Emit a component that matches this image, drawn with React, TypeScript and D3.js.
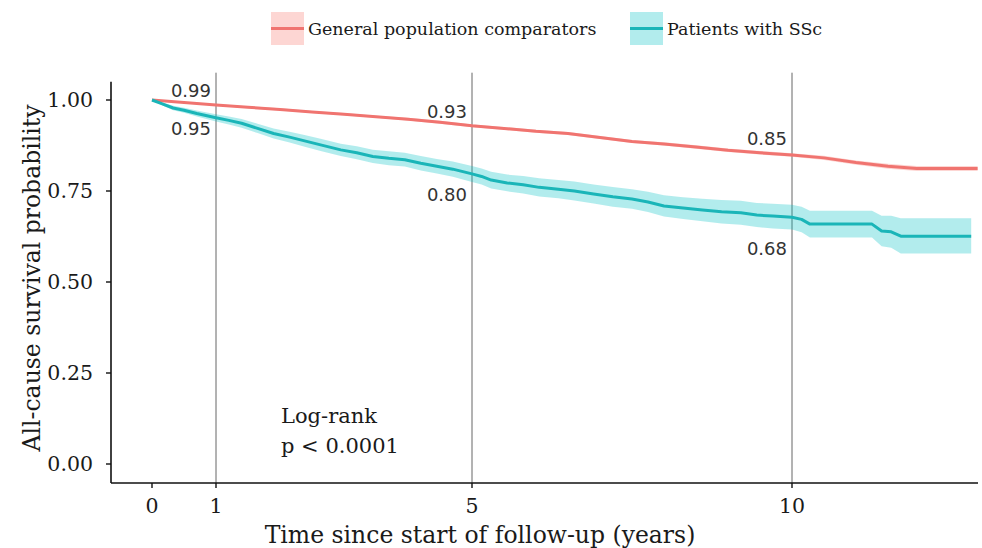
import React from 'react';
import * as d3 from 'd3';

// Kaplan-Meier readings: [time (years), survival, lower CI, upper CI]
const generalCurve: number[][] = [
  [0, 1.0, 1.0, 1.0],
  [0.5, 0.993, 0.991, 0.995],
  [1.0, 0.986, 0.984, 0.988],
  [1.5, 0.98, 0.977, 0.983],
  [2.0, 0.974, 0.971, 0.977],
  [2.5, 0.967, 0.964, 0.97],
  [3.0, 0.961, 0.958, 0.964],
  [3.5, 0.954, 0.951, 0.957],
  [4.0, 0.947, 0.944, 0.951],
  [4.5, 0.939, 0.935, 0.943],
  [5.0, 0.929, 0.925, 0.933],
  [5.5, 0.922, 0.918, 0.926],
  [6.0, 0.914, 0.91, 0.918],
  [6.5, 0.908, 0.904, 0.912],
  [7.0, 0.897, 0.893, 0.901],
  [7.5, 0.886, 0.882, 0.89],
  [8.0, 0.879, 0.875, 0.884],
  [8.5, 0.871, 0.866, 0.876],
  [9.0, 0.862, 0.857, 0.867],
  [9.5, 0.855, 0.85, 0.86],
  [10.0, 0.849, 0.844, 0.854],
  [10.5, 0.841, 0.835, 0.847],
  [11.0, 0.828, 0.822, 0.834],
  [11.5, 0.818, 0.811, 0.825],
  [11.95, 0.812, 0.805, 0.819],
  [12.9, 0.812, 0.805, 0.819],
];

const sscCurve: number[][] = [
  [0, 1.0, 1.0, 1.0],
  [0.15, 0.99, 0.986, 0.994],
  [0.33, 0.978, 0.972, 0.984],
  [0.5, 0.972, 0.965, 0.979],
  [0.7, 0.963, 0.955, 0.971],
  [1.0, 0.951, 0.941, 0.961],
  [1.2, 0.944, 0.933, 0.955],
  [1.4, 0.936, 0.924, 0.948],
  [1.65, 0.922, 0.909, 0.935],
  [1.9, 0.908, 0.894, 0.922],
  [2.15, 0.898, 0.883, 0.913],
  [2.4, 0.887, 0.871, 0.903],
  [2.65, 0.876, 0.859, 0.893],
  [2.95, 0.863, 0.846, 0.88],
  [3.2, 0.855, 0.837, 0.873],
  [3.45, 0.845, 0.827, 0.863],
  [3.7, 0.84, 0.821, 0.859],
  [3.95, 0.836, 0.817, 0.855],
  [4.2, 0.826, 0.806, 0.846],
  [4.45, 0.818, 0.798, 0.838],
  [4.7, 0.81, 0.789, 0.831],
  [5.0, 0.797, 0.775, 0.819],
  [5.15, 0.79, 0.768, 0.812],
  [5.3, 0.78, 0.757, 0.803],
  [5.55, 0.772, 0.749, 0.795],
  [5.8, 0.767, 0.743, 0.791],
  [6.05, 0.76, 0.735, 0.785],
  [6.35, 0.755, 0.73, 0.78],
  [6.6, 0.75, 0.724, 0.776],
  [6.9, 0.742, 0.716, 0.768],
  [7.2, 0.734, 0.707, 0.761],
  [7.5, 0.728, 0.701, 0.755],
  [7.75, 0.72, 0.692, 0.748],
  [8.0, 0.709, 0.68, 0.738],
  [8.3, 0.703, 0.673, 0.733],
  [8.6, 0.698, 0.667, 0.729],
  [8.9, 0.693, 0.661, 0.725],
  [9.2, 0.69, 0.657, 0.723],
  [9.45, 0.684, 0.651, 0.717],
  [9.7, 0.681, 0.647, 0.715],
  [10.0, 0.678, 0.644, 0.712],
  [10.15, 0.672, 0.637, 0.707],
  [10.28, 0.659, 0.622, 0.696],
  [11.25, 0.659, 0.622, 0.696],
  [11.4, 0.64, 0.598, 0.682],
  [11.55, 0.638, 0.594, 0.682],
  [11.7, 0.626, 0.578, 0.675],
  [12.8, 0.626, 0.578, 0.675],
];

const xTicks = [0, 1, 5, 10];
const yTicks = [0, 0.25, 0.5, 0.75, 1.0];
const markTimes = [1, 5, 10];

// [time, label y, text]
const annotations: [number, number, string][] = [
  [1, 1.025, '0.99'],
  [1, 0.92, '0.95'],
  [5, 0.967, '0.93'],
  [5, 0.739, '0.80'],
  [10, 0.894, '0.85'],
  [10, 0.592, '0.68'],
];

const seriesNames = ['General population comparators', 'Patients with SSc'];
const lineColors = ['#F07470', '#1AB5B8'];
const fillColors = ['rgba(248,118,109,0.3)', 'rgba(0,191,196,0.3)'];

const W = 982;
const H = 548;
const serif = '"DejaVu Serif", serif';
const sans = '"DejaVu Sans", sans-serif';

export default function App() {
  const x = d3.scaleLinear().domain([0, 10]).range([152, 792]);
  const y = d3.scaleLinear().domain([0, 1]).range([464, 100]);
  const plotLeft = 111;
  const plotRight = 978;
  const plotBottom = 483;
  const plotTop = y(1.05);

  const line = d3
    .line<number[]>()
    .x((d) => x(d[0]))
    .y((d) => y(d[1]));
  const band = d3
    .area<number[]>()
    .x((d) => x(d[0]))
    .y0((d) => y(d[2]))
    .y1((d) => y(d[3]));

  const curves = [generalCurve, sscCurve];
  const legendX = [271, 630];

  return (
    <svg width={W} height={H} style={{ position: 'absolute', left: 0, top: 0, background: '#fff' }}>
      {/* legend */}
      {seriesNames.map((name, i) => (
        <g key={name} transform={`translate(${legendX[i]},12)`}>
          <rect x={0} y={0} width={33} height={33} fill={fillColors[i]} />
          <line x1={0} x2={33} y1={16.5} y2={16.5} stroke={lineColors[i]} strokeWidth={3} />
          <text x={37} y={23} fontFamily={serif} fontSize={17.5} fill="#1a1a1a">
            {name}
          </text>
        </g>
      ))}

      {/* reference lines */}
      {markTimes.map((t) => (
        <line key={t} x1={x(t)} x2={x(t)} y1={y(1.075)} y2={plotBottom} stroke="#666" strokeWidth={1} />
      ))}

      {/* ribbons and curves */}
      {curves.map((c, i) => (
        <path key={'b' + i} d={band(c) || ''} fill={fillColors[i]} stroke="none" />
      ))}
      {curves.map((c, i) => (
        <path
          key={'l' + i}
          d={line(c) || ''}
          fill="none"
          stroke={lineColors[i]}
          strokeWidth={3}
          strokeLinejoin="round"
        />
      ))}

      {/* annotations */}
      {annotations.map(([t, v, s]) => (
        <text
          key={s}
          x={x(t) - 5}
          y={y(v)}
          dy="0.35em"
          textAnchor="end"
          fontFamily={sans}
          fontSize={18}
          fill="#333"
        >
          {s}
        </text>
      ))}

      <text fontFamily={serif} fontSize={21} fill="#1a1a1a">
        <tspan x={281} y={423}>Log-rank</tspan>
        <tspan x={281} y={453}>p &lt; 0.0001</tspan>
      </text>

      {/* axes */}
      <line x1={plotLeft} x2={plotLeft} y1={plotTop} y2={plotBottom} stroke="#111" strokeWidth={1.6} />
      <line x1={plotLeft} x2={plotRight} y1={plotBottom} y2={plotBottom} stroke="#111" strokeWidth={1.6} />
      {yTicks.map((v) => (
        <g key={v}>
          <line x1={plotLeft - 5} x2={plotLeft} y1={y(v)} y2={y(v)} stroke="#111" strokeWidth={1.4} />
          <text
            x={93}
            y={y(v)}
            dy="0.36em"
            textAnchor="end"
            fontFamily={serif}
            fontSize={20.5}
            fill="#1a1a1a"
          >
            {v.toFixed(2)}
          </text>
        </g>
      ))}
      {xTicks.map((t) => (
        <g key={t}>
          <line x1={x(t)} x2={x(t)} y1={plotBottom} y2={plotBottom + 5} stroke="#111" strokeWidth={1.4} />
          <text x={x(t)} y={513} textAnchor="middle" fontFamily={serif} fontSize={20.5} fill="#1a1a1a">
            {t}
          </text>
        </g>
      ))}

      <text x={480} y={543} textAnchor="middle" fontFamily={serif} fontSize={23.5} fill="#1a1a1a">
        Time since start of follow-up (years)
      </text>
      <text
        transform={`translate(40,278) rotate(-90)`}
        textAnchor="middle"
        fontFamily={serif}
        fontSize={23.5}
        fill="#1a1a1a"
      >
        All-cause survival probability
      </text>
    </svg>
  );
}
